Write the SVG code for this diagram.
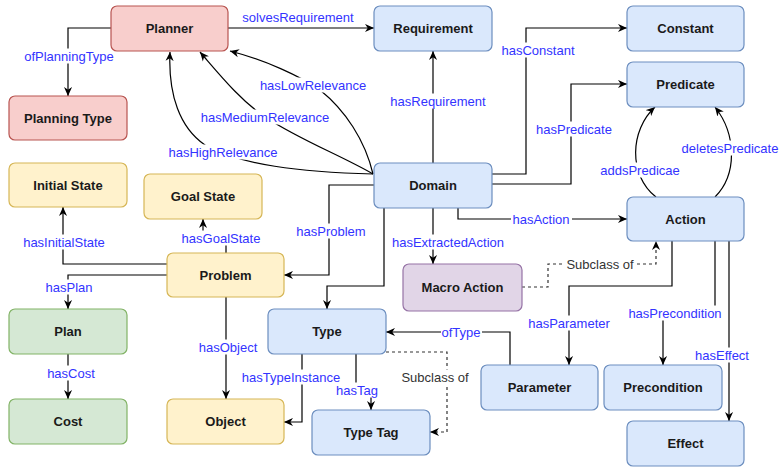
<svg xmlns="http://www.w3.org/2000/svg" width="779" height="468" viewBox="0 0 779 468">
<style>
.n rect{stroke-width:1.2}
.red{fill:#f8cecc;stroke:#b85450}
.blue{fill:#dae8fc;stroke:#6c8ebf}
.yel{fill:#fff2cc;stroke:#d6b656}
.grn{fill:#d5e8d4;stroke:#82b366}
.pur{fill:#e1d5e7;stroke:#9673a6}
.n text{font-family:"Liberation Sans",Arial,sans-serif;font-size:13px;font-weight:bold;fill:#1a1a1a;text-anchor:middle}
.e{fill:none;stroke:#000;stroke-width:1.2;marker-end:url(#arr)}
.d{fill:none;stroke:#333;stroke-width:1.2;stroke-dasharray:3 3;marker-end:url(#arr)}
.lb rect{fill:#fff}
.lb text{font-family:"Liberation Sans",Arial,sans-serif;font-size:13px;fill:#3333ff;text-anchor:middle}
.lb text.g{fill:#333}
</style>
<defs>
<marker id="arr" viewBox="0 0 10 10" refX="10" refY="5" markerWidth="9" markerHeight="9" markerUnits="userSpaceOnUse" orient="auto">
<path d="M0,0.5 L10,5 L0,9.5 L3,5 Z" fill="#000"/>
</marker>
</defs>
<rect width="779" height="468" fill="#fff"/>
<g id="connectors">
<path class="e" d="M228,28 H374"/>
<path class="e" d="M111,28 H68 V96"/>
<path class="e" d="M373,174 C365,140 345,110 320,90 C300,76 265,60 230,51"/>
<path class="e" d="M373,174 C340,155 300,140 265,117 C240,100 220,75 200,52"/>
<path class="e" d="M373,174 C300,172 240,165 205,145 C180,128 168,95 170,52"/>
<path class="e" d="M433,163 V51"/>
<path class="e" d="M492,174 H526 V28 H627"/>
<path class="e" d="M492,184 H571 V84 H627"/>
<path class="e" d="M458,208 V219 H627"/>
<path class="e" d="M433,208 V264"/>
<path class="e" d="M374,185 H329 V275 H284"/>
<path class="e" d="M384,208 V286 H327 V309"/>
<path class="e" d="M167,264 H63 V207"/>
<path class="e" d="M226,253 V236 H203 V219"/>
<path class="e" d="M167,275 H68 V309"/>
<path class="e" d="M68,354 V399"/>
<path class="e" d="M226,297 V399"/>
<path class="e" d="M302,354 V422 H284"/>
<path class="e" d="M356,354 V396 H371 V410"/>
<path class="d" d="M386,352 H447 V432 H430"/>
<path class="e" d="M510,365 V332 H386"/>
<path class="d" d="M522,287 H548 V264 H656 V241"/>
<path class="e" d="M672,241 V286 H569 V365"/>
<path class="e" d="M715,241 V313 H663 V365"/>
<path class="e" d="M729,241 V421"/>
<path class="e" d="M656,197 C628,175 630,130 655,107"/>
<path class="e" d="M715,197 C737,175 737,135 715,107"/>
</g>
<g id="labels" class="lb">
<text x="298" y="21.5">solvesRequirement</text>
<rect x="22" y="48.5" width="94" height="15"/><text x="69" y="60.5">ofPlanningType</text>
<rect x="257" y="77.5" width="112" height="15"/><text x="313" y="89.5">hasLowRelevance</text>
<rect x="198" y="109.5" width="135" height="15"/><text x="265" y="121.5">hasMediumRelevance</text>
<rect x="166" y="144.5" width="115" height="15"/><text x="223" y="156.5">hasHighRelevance</text>
<rect x="388" y="93.5" width="100" height="15"/><text x="438" y="105.5">hasRequirement</text>
<rect x="500" y="42.5" width="77" height="15"/><text x="538" y="54.5">hasConstant</text>
<rect x="534" y="121.5" width="80" height="15"/><text x="574" y="133.5">hasPredicate</text>
<rect x="511" y="211.5" width="61" height="15"/><text x="541" y="223.5">hasAction</text>
<rect x="390" y="234.5" width="117" height="15"/><text x="448" y="246.5">hasExtractedAction</text>
<rect x="295" y="223.5" width="73" height="15"/><text x="331" y="235.5">hasProblem</text>
<rect x="21" y="234.5" width="86" height="15"/><text x="64" y="246.5">hasInitialState</text>
<rect x="180" y="230.5" width="83" height="15"/><text x="221" y="242.5">hasGoalState</text>
<rect x="44" y="279.5" width="50" height="15"/><text x="69" y="291.5">hasPlan</text>
<rect x="46" y="365.5" width="51" height="15"/><text x="71" y="377.5">hasCost</text>
<rect x="198" y="339.5" width="61" height="15"/><text x="228" y="351.5">hasObject</text>
<rect x="240" y="369.5" width="103" height="15"/><text x="291" y="381.5">hasTypeInstance</text>
<rect x="335" y="382.5" width="45" height="15"/><text x="357" y="394.5">hasTag</text>
<rect x="400" y="369.5" width="70" height="15"/><text class="g" x="435" y="381.5">Subclass of</text>
<rect x="441" y="324.5" width="41" height="15"/><text x="461" y="336.5">ofType</text>
<rect x="565" y="256.5" width="71" height="15"/><text class="g" x="600" y="268.5">Subclass of</text>
<rect x="527" y="315.5" width="85" height="15"/><text x="569" y="327.5">hasParameter</text>
<rect x="626" y="305.5" width="97" height="15"/><text x="675" y="317.5">hasPrecondition</text>
<rect x="693" y="347.5" width="58" height="15"/><text x="722" y="359.5">hasEffect</text>
<rect x="599" y="162.5" width="83" height="15"/><text x="640" y="174.5">addsPredicae</text>
<rect x="680" y="140.5" width="100" height="15"/><text x="730" y="152.5">deletesPredicate</text>
</g>
<g id="planner" class="n"><rect class="red" x="111" y="6" width="117" height="45" rx="6"/><text x="169.5" y="33">Planner</text></g>
<g id="planningtype" class="n"><rect class="red" x="9" y="96" width="118" height="44" rx="6"/><text x="68" y="122.5">Planning Type</text></g>
<g id="requirement" class="n"><rect class="blue" x="374" y="6" width="118" height="45" rx="6"/><text x="433" y="33">Requirement</text></g>
<g id="constant" class="n"><rect class="blue" x="627" y="6" width="117" height="45" rx="6"/><text x="685.5" y="33">Constant</text></g>
<g id="predicate" class="n"><rect class="blue" x="627" y="62" width="117" height="45" rx="6"/><text x="685.5" y="89">Predicate</text></g>
<g id="initialstate" class="n"><rect class="yel" x="9" y="163" width="118" height="44" rx="6"/><text x="68" y="189.5">Initial State</text></g>
<g id="goalstate" class="n"><rect class="yel" x="144" y="174" width="118" height="45" rx="6"/><text x="203" y="201">Goal State</text></g>
<g id="domain" class="n"><rect class="blue" x="374" y="163" width="118" height="45" rx="6"/><text x="433" y="190">Domain</text></g>
<g id="action" class="n"><rect class="blue" x="627" y="197" width="117" height="44" rx="6"/><text x="685.5" y="223.5">Action</text></g>
<g id="problem" class="n"><rect class="yel" x="167" y="253" width="117" height="44" rx="6"/><text x="225.5" y="279.5">Problem</text></g>
<g id="macroaction" class="n"><rect class="pur" x="403" y="264" width="119" height="47" rx="6"/><text x="462.5" y="292">Macro Action</text></g>
<g id="plan" class="n"><rect class="grn" x="9" y="309" width="118" height="45" rx="6"/><text x="68" y="336">Plan</text></g>
<g id="type" class="n"><rect class="blue" x="268" y="309" width="118" height="45" rx="6"/><text x="327" y="336">Type</text></g>
<g id="cost" class="n"><rect class="grn" x="9" y="399" width="118" height="45" rx="6"/><text x="68" y="426">Cost</text></g>
<g id="object" class="n"><rect class="yel" x="167" y="399" width="117" height="45" rx="6"/><text x="225.5" y="426">Object</text></g>
<g id="typetag" class="n"><rect class="blue" x="312" y="410" width="118" height="45" rx="6"/><text x="371" y="437">Type Tag</text></g>
<g id="parameter" class="n"><rect class="blue" x="481" y="365" width="117" height="45" rx="6"/><text x="539.5" y="392">Parameter</text></g>
<g id="precondition" class="n"><rect class="blue" x="604" y="365" width="118" height="45" rx="6"/><text x="663" y="392">Precondition</text></g>
<g id="effect" class="n"><rect class="blue" x="627" y="421" width="117" height="45" rx="6"/><text x="685.5" y="448">Effect</text></g>
</svg>
